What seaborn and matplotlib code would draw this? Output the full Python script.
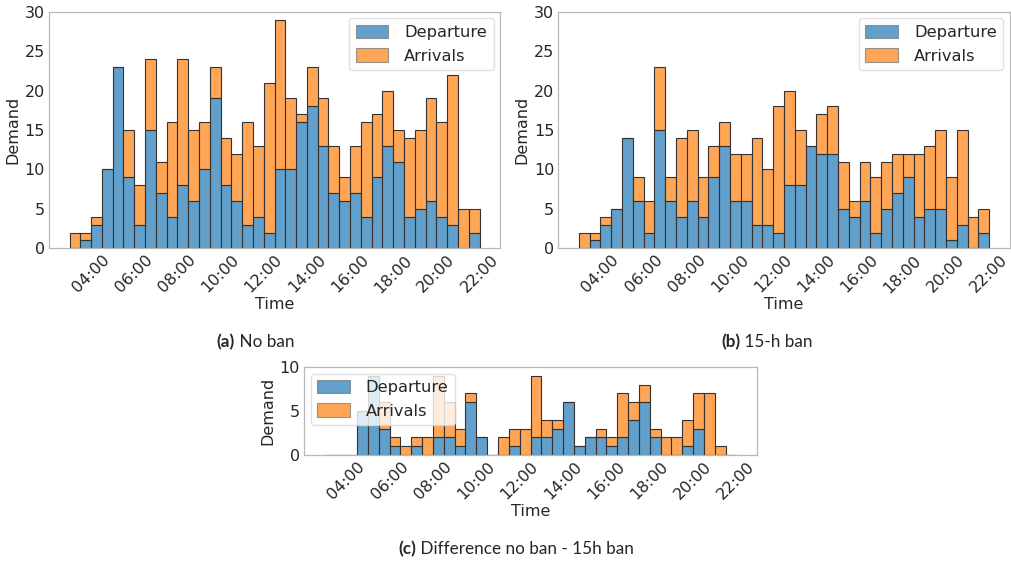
import numpy as np
import pandas as pd
import matplotlib
matplotlib.use("Agg")
import matplotlib.pyplot as plt
import seaborn as sns
from matplotlib.patches import Patch
from matplotlib.ticker import FuncFormatter

# Half-hour slots from 03:00 to 22:00 (38 bins)
bin_start_hours = [3 + 0.5 * i for i in range(38)]
bin_edges = [3 + 0.5 * i for i in range(39)]

# Scenario "No ban": flights per half-hour slot
noban_departures = [0, 1, 3, 10, 23, 9, 3, 15, 7, 4, 8, 6, 10, 19, 8, 6, 3, 4, 2,
                    10, 10, 16, 18, 13, 7, 6, 7, 4, 9, 13, 11, 4, 5, 6, 4, 3, 0, 2]
noban_arrivals = [2, 1, 1, 0, 0, 6, 5, 9, 4, 12, 16, 9, 6, 4, 6, 6, 13, 9, 19,
                  19, 9, 1, 5, 6, 6, 3, 6, 12, 8, 7, 4, 10, 10, 13, 12, 19, 5, 3]

# Scenario "15-h ban"
ban_departures = [0, 1, 3, 5, 14, 6, 2, 15, 6, 4, 6, 4, 9, 13, 6, 6, 3, 3, 2,
                  8, 8, 13, 12, 12, 5, 4, 6, 2, 5, 7, 9, 4, 5, 5, 1, 3, 0, 2]
ban_arrivals = [2, 1, 1, 0, 0, 3, 4, 8, 3, 10, 9, 5, 4, 3, 6, 6, 11, 7, 16,
                12, 7, 0, 5, 6, 6, 2, 5, 7, 6, 5, 3, 8, 8, 10, 8, 12, 4, 3]

# Flights removed by the ban (no ban minus 15-h ban)
diff_departures = [a - b for a, b in zip(noban_departures, ban_departures)]
diff_arrivals = [a - b for a, b in zip(noban_arrivals, ban_arrivals)]

series_labels = ["Departure", "Arrivals"]
series_colors = ["#1f77b4", "#ff7f0e"]
time_ticks = [4, 6, 8, 10, 12, 14, 16, 18, 20, 22]

W, H = 1011, 562
fig = plt.figure(figsize=(W / 100, H / 100), dpi=100)
sns.set_style("white")
plt.rcParams["font.family"] = ["DejaVu Sans"]


def long_frame(dep, arr):
    t = np.array(bin_start_hours) + 0.25
    return pd.DataFrame({
        "t": np.concatenate([t, t]),
        "count": np.concatenate([dep, arr]),
        "kind": ["Departure"] * len(t) + ["Arrivals"] * len(t),
    })


def draw_panel(rect, dep, arr, ymax, yticks, legend_loc):
    ax = fig.add_axes(rect)
    df = long_frame(dep, arr)
    sns.histplot(data=df, x="t", weights="count", hue="kind",
                 hue_order=["Arrivals", "Departure"],
                 palette={"Departure": series_colors[0], "Arrivals": series_colors[1]},
                 multiple="stack", bins=bin_edges, alpha=0.7,
                 edgecolor="0.2", linewidth=0.8, legend=False, ax=ax)
    ax.set_xlim(3 - 0.95, 22 + 0.95)
    ax.set_ylim(0, ymax)
    ax.set_yticks(yticks)
    ax.set_xticks(time_ticks)
    ax.xaxis.set_major_formatter(FuncFormatter(lambda v, p: f"{int(round(v)):02d}:00"))
    ax.tick_params(axis="x", labelrotation=45, labelsize=11.5, length=0, pad=3)
    ax.tick_params(axis="y", labelsize=11.5, length=0, pad=3)
    for s in ax.spines.values():
        s.set_color("0.72")
        s.set_linewidth(0.9)
    ax.set_xlabel("Time", fontsize=11.5, labelpad=1)
    ax.set_ylabel("Demand", fontsize=11.5, labelpad=3)
    handles = [Patch(facecolor=c, alpha=0.7, edgecolor="0.45", linewidth=0.8)
               for c in series_colors]
    ax.legend(handles, series_labels, loc=legend_loc, fontsize=11.7,
              frameon=True, framealpha=0.8, edgecolor="0.85",
              handlelength=2.0, handleheight=0.9, handletextpad=1.0,
              borderaxespad=0.4)
    return ax


draw_panel([49 / W, 1 - 248.3 / H, 451 / W, 236.6 / H],
           noban_departures, noban_arrivals, 30, [0, 5, 10, 15, 20, 25, 30], "upper right")
draw_panel([558.3 / W, 1 - 248.3 / H, 451.5 / W, 236.6 / H],
           ban_departures, ban_arrivals, 30, [0, 5, 10, 15, 20, 25, 30], "upper right")
draw_panel([304 / W, 1 - 455 / H, 453 / W, 88 / H],
           diff_departures, diff_arrivals, 10, [0, 5, 10], "upper left")

cap_font = ["Lato", "DejaVu Sans"]


def caption(x, y, tag, text):
    fig.text(x, y, tag, fontsize=12.3, fontweight="bold", family=cap_font,
             ha="right", va="center")
    fig.text(x, y, " " + text, fontsize=12.3, family=cap_font, ha="left", va="center")


caption(235 / W, 1 - 342 / H, "(a)", "No ban")
caption(740 / W, 1 - 342 / H, "(b)", "15-h ban")
caption(416 / W, 1 - 549 / H, "(c)", "Difference no ban - 15h ban")

fig.savefig("out.png", dpi=100)
